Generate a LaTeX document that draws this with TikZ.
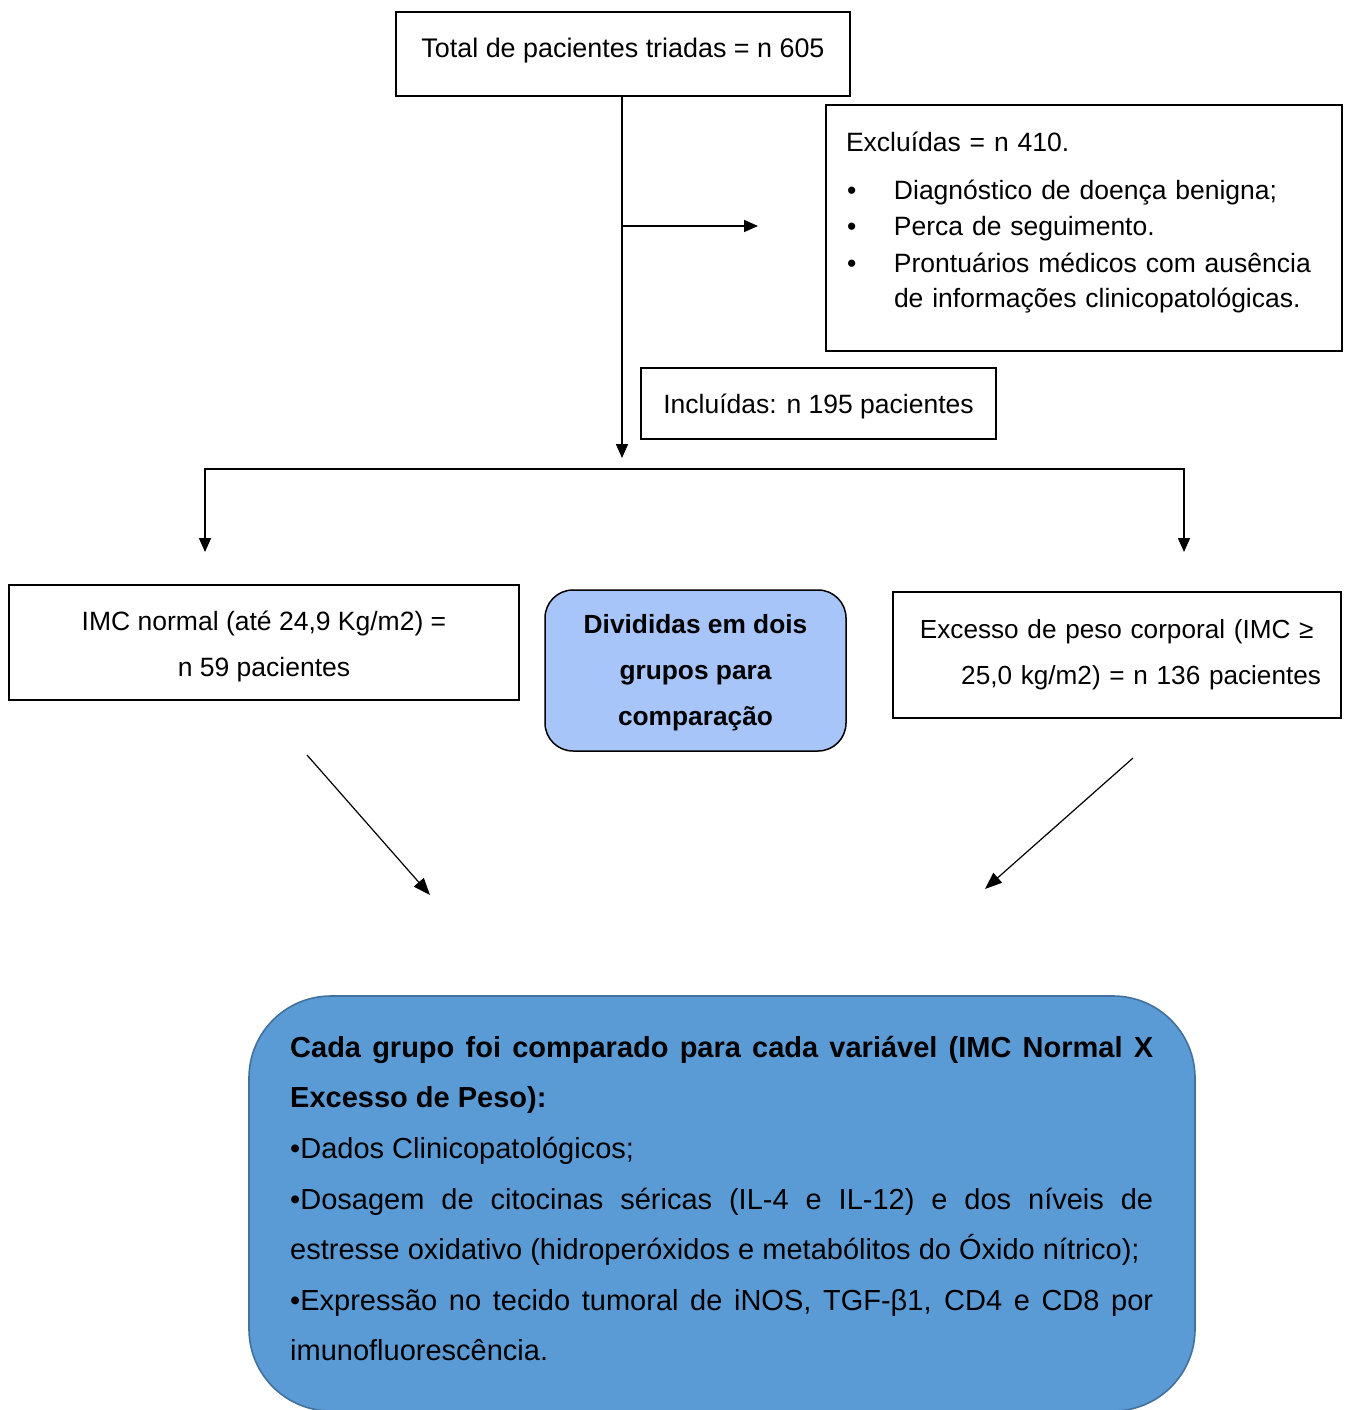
\documentclass[tikz,border=0pt]{standalone}
\usepackage{fontspec}
\setmainfont{Liberation Sans}
\usetikzlibrary{arrows.meta}
\definecolor{midblue}{HTML}{A8C5F9}
\definecolor{botblue}{HTML}{5B9BD5}
\definecolor{botedge}{HTML}{41719C}
\begin{document}
\begin{tikzpicture}[x=1pt,y=-1pt,
  box/.style={draw=black,line width=1.5pt,inner sep=0pt,align=center,font=\fontsize{26.5}{46}\selectfont},
  conn/.style={line width=1.6pt,-{Triangle[length=14pt,width=12pt]}},
  plain/.style={line width=1.6pt},
  diag/.style={line width=1.2pt,-{Triangle[length=17pt,width=13pt]}}]
\useasboundingbox (0,0) rectangle (1344,1410);
\fill[white] (0,0) rectangle (1344,1410);

% top box
\node[box,minimum width=454pt,minimum height=84pt,text height=19pt,text depth=12pt,font=\fontsize{26.9}{46}\selectfont] (top) at (623,54) {Total de pacientes triadas = n 605};

% excluded box
\node[box,minimum width=516pt,minimum height=246pt,align=left,text width=476pt,inner xsep=20pt,inner ysep=0pt,
  font=\fontsize{26.5}{36.5}\selectfont] (excl) at (1084,228)
 {Excluídas = n 410.\\[11pt]
  \makebox[48pt][l]{\hspace{1pt}•}Diagnóstico de doença benigna;\\
  \makebox[48pt][l]{\hspace{1pt}•}Perca de seguimento.\\
  \makebox[48pt][l]{\hspace{1pt}•}Prontuários médicos com ausência\\[-1.5pt]
  \hspace*{48pt}de informações clinicopatológicas.\rule[-16.6pt]{0pt}{0pt}};

% included box
\node[box,minimum width=355pt,minimum height=71pt,text height=20pt,text depth=0pt] (incl) at (818.5,403.5) {Incluídas: n 195 pacientes};

% left box
\node[box,minimum width=510pt,minimum height=115pt] (left) at (264,642.5) {\rule{0pt}{28pt}IMC normal (até 24,9 Kg/m2) =\\ n 59 pacientes};

% middle box
\node[box,rounded corners=28pt,fill=midblue,minimum width=301pt,minimum height=161pt,font=\fontsize{26.3}{46}\selectfont\bfseries] (mid) at (695.5,670.5) {\rule{0pt}{23.2pt}Divididas em dois\\ grupos para\\ comparação};

% right box
\node[box,minimum width=448pt,minimum height=126pt,align=right,text width=408pt,font=\fontsize{26.15}{46}\selectfont] (right) at (1117,655) {Excesso de peso corporal (IMC ≥\rule{7.4pt}{0pt}\\ 25,0 kg/m2) = n 136 pacientes};

% bottom box
\fill[botblue,draw=botedge,line width=1.6pt,rounded corners=82pt] (249,996) rectangle (1195,1411);
\node[anchor=north west,inner sep=0pt,text height=0pt] (bottom) at (290,1057)
 {\parbox[t]{863pt}{\fontsize{29}{50.6}\selectfont\hyphenpenalty=10000\exhyphenpenalty=10000\emergencystretch=50pt
  \textbf{Cada grupo foi comparado para cada variável (IMC Normal X\linebreak Excesso de Peso):}\par
  •Dados Clinicopatológicos;\par
  •Dosagem de citocinas séricas (IL-4 e IL-12) e dos níveis de\linebreak estresse oxidativo (hidroperóxidos e metabólitos do Óxido nítrico);\par
  •Expressão no tecido tumoral de iNOS, TGF-β1, CD4 e CD8 por\linebreak imunofluorescência.}};

% coordinates
\coordinate (vend) at (622,458);
\coordinate (bj) at (622,226);
\coordinate (bend) at (758,226);
\coordinate (hl) at (205,469);
\coordinate (hr) at (1184,469);
\coordinate (al) at (205,552);
\coordinate (ar) at (1184,552);
\coordinate (dls) at (307,755);
\coordinate (dle) at (430,895);
\coordinate (drs) at (1133,758);
\coordinate (dre) at (985,889);

% connectors
\draw[conn] (top.south -| vend) -- (vend);
\draw[conn] (bj) -- (bend);
\draw[plain] ([xshift=-0.8pt]hl) -- ([xshift=0.8pt]hr);
\draw[conn] (hl) -- (al);
\draw[conn] (hr) -- (ar);
\draw[diag] (dls) -- (dle);
\draw[diag] (drs) -- (dre);
\end{tikzpicture}
\end{document}
